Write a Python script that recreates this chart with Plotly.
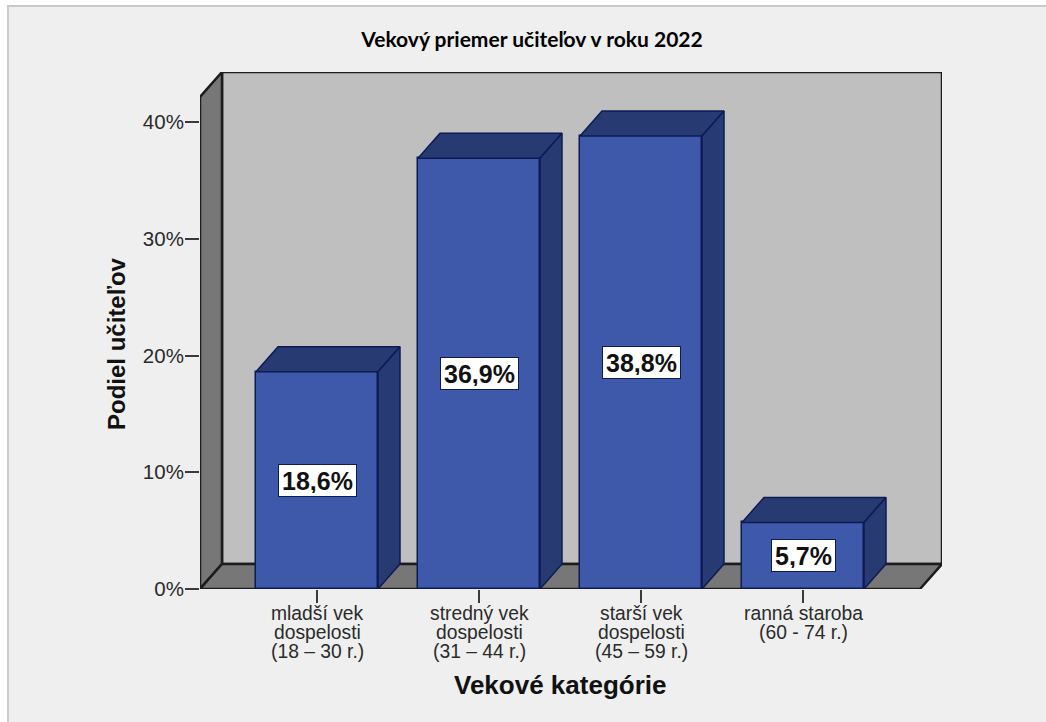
import plotly.graph_objects as go

# ---- data ----
categories = ["mladší vek\ndospelosti\n(18 – 30 r.)",
              "stredný vek\ndospelosti\n(31 – 44 r.)",
              "starší vek\ndospelosti\n(45 – 59 r.)",
              "ranná staroba\n(60 - 74 r.)"]
values = [18.6, 36.9, 38.8, 5.7]
y_ticks = [0, 10, 20, 30, 40]
title_text = "Vekový priemer učiteľov v roku 2022"
x_title = "Vekové kategórie"
y_title = "Podiel učiteľov"

# ---- figure geometry (pixels) and 3D projection ----
W, H = 1046, 722
PX_LEFT, PX_RIGHT, PX_BOTTOM, PX_TOP = 200, 942, 589, 72
PX_PER_CAT, PX_PER_PCT, CENTER0 = 162, 11.675, 317
dx = 22 / PX_PER_CAT      # depth expressed in x-axis units
dy = 25 / PX_PER_PCT      # depth expressed in y-axis units
bar_w = 122 / PX_PER_CAT
x_range = [(PX_LEFT - CENTER0) / PX_PER_CAT, (PX_RIGHT - CENTER0) / PX_PER_CAT]
y_range = [0, (PX_BOTTOM - PX_TOP) / PX_PER_PCT]
x_front_end = x_range[1] - dx
y_wall_top = y_range[1]

C_FRONT, C_DARK, C_EDGE = "#3e59a9", "#283a72", "#0d1b55"
C_WALL, C_SIDE, C_LINE, C_BG = "#bfbfbf", "#777777", "#1c1c1c", "#efefef"
C_TEXT = "#2b2b2b"
FONT = "Liberation Sans"

xs = list(range(len(values)))
fig = go.Figure()

# front faces
fig.add_trace(go.Bar(x=xs, y=values, width=bar_w,
                     marker=dict(color=C_FRONT, line=dict(color=C_EDGE, width=1.5)),
                     hoverinfo="skip", showlegend=False))

# top and side faces, projected from each value
for x, v in zip(xs, values):
    l, r = x - bar_w / 2, x + bar_w / 2
    fig.add_trace(go.Scatter(x=[l, l + dx, r + dx, r, l], y=[v, v + dy, v + dy, v, v],
                             mode="lines", fill="toself", fillcolor=C_DARK,
                             line=dict(color=C_EDGE, width=1.5),
                             hoverinfo="skip", showlegend=False))
    fig.add_trace(go.Scatter(x=[r, r + dx, r + dx, r, r], y=[0, dy, v + dy, v, 0],
                             mode="lines", fill="toself", fillcolor=C_DARK,
                             line=dict(color=C_EDGE, width=1.5),
                             hoverinfo="skip", showlegend=False))

def poly(pts):
    return "M " + " L ".join(f"{a},{b}" for a, b in pts) + " Z"

x0 = x_range[0]
shapes = [
    # page panel
    dict(type="rect", xref="paper", yref="paper", x0=8 / W, x1=1.02, y0=-0.02, y1=(H - 6) / H,
         fillcolor=C_BG, line=dict(color="#cacaca", width=2), layer="below"),
    # back wall
    dict(type="path", path=poly([(x0 + dx, dy), (x0 + dx, y_wall_top), (x_range[1], y_wall_top), (x_range[1], dy)]),
         fillcolor=C_WALL, line=dict(color=C_LINE, width=2.5), layer="below"),
    # left wall
    dict(type="path", path=poly([(x0, 0), (x0, y_wall_top - dy), (x0 + dx, y_wall_top), (x0 + dx, dy)]),
         fillcolor=C_SIDE, line=dict(color=C_LINE, width=2.5), layer="below"),
    # floor
    dict(type="path", path=poly([(x0, 0), (x0 + dx, dy), (x_range[1], dy), (x_front_end, 0)]),
         fillcolor=C_SIDE, line=dict(color=C_LINE, width=2.5), layer="below"),
]

annotations = []
# value labels
for x, v in zip(xs, values):
    annotations.append(dict(x=x, y=v / 2, xref="x", yref="y", showarrow=False,
                            text="<b>" + f"{v:.1f}".replace(".", ",") + "%</b>",
                            font=dict(family=FONT, size=25, color="#111111"),
                            height=25, bgcolor="#ffffff", bordercolor=C_EDGE, borderwidth=1, borderpad=3))
# category labels, one annotation per line for the tight line spacing
LINE_H = 19.2
for x, cat in zip(xs, categories):
    for i, line in enumerate(cat.split("\n")):
        annotations.append(dict(x=x, y=(H - 613 - i * LINE_H) / H, xref="x", yref="paper",
                                xanchor="center", yanchor="middle", showarrow=False, text=line,
                                font=dict(family=FONT, size=19.3, color=C_TEXT)))
# axis titles
annotations.append(dict(x=560 / W, y=(H - 685) / H, xref="paper", yref="paper", showarrow=False,
                        xanchor="center", yanchor="middle",
                        text="<b>" + x_title + "</b>", font=dict(family=FONT, size=26, color="#111111")))
annotations.append(dict(x=116 / W, y=(H - 344) / H, xref="paper", yref="paper", showarrow=False, textangle=-90,
                        xanchor="center", yanchor="middle",
                        text="<b>" + y_title + "</b>", font=dict(family=FONT, size=24, color="#111111")))

fig.update_layout(
    width=W, height=H, margin=dict(l=0, r=0, t=0, b=0, pad=0, autoexpand=False),
    paper_bgcolor="#ffffff", plot_bgcolor="rgba(0,0,0,0)",
    bargap=0, showlegend=False, shapes=shapes, annotations=annotations,
    title=dict(text="<b>" + title_text + "</b>", x=532 / W, xanchor="center", y=(H - 40) / H, yanchor="middle",
               font=dict(family="Lato", size=21, color="#000000")),
    xaxis=dict(domain=[PX_LEFT / W, PX_RIGHT / W], range=x_range, tickvals=xs, showticklabels=False,
               ticks="outside", ticklen=13, tickwidth=2, tickcolor="#3a3a3a", showgrid=False, zeroline=False,
               showline=False),
    yaxis=dict(domain=[(H - PX_BOTTOM) / H, (H - PX_TOP) / H], range=y_range, tickvals=y_ticks,
               ticktext=[f"{t}%" for t in y_ticks], ticks="outside", ticklen=14, tickwidth=2,
               tickcolor="#3a3a3a", showgrid=False, zeroline=False, showline=False, ticklabelstandoff=-3,
               tickfont=dict(family=FONT, size=20.5, color=C_TEXT)),
)

fig.write_html("out.html", config={"displayModeBar": False},
               post_script="document.body.style.margin='0';")
